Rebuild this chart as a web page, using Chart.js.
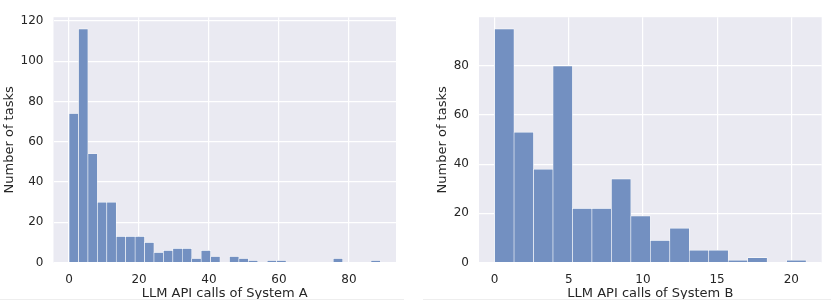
<!DOCTYPE html>
<html>
<head>
<meta charset="utf-8">
<script src="https://cdn.jsdelivr.net/npm/chart.js@4.4.0/dist/chart.umd.min.js"></script>
<style>
    body { margin: 0; background: #fff; width: 831px; height: 305px; overflow: hidden; position: relative; }
    .box { position: absolute; top: 0; height: 305px; }
    #boxA { left: 0; width: 410px; }
    #boxB { left: 433px; width: 398px; }
    .edge { position: absolute; top: 299px; height: 1px; background: #eeeeee; }
</style>
</head>
<body>
<div class="box" id="boxA"><canvas id="chartA" width="410" height="305"></canvas></div>
<div class="box" id="boxB"><canvas id="chartB" width="398" height="305"></canvas></div>
<div class="edge" style="left:0;width:404px"></div>
<div class="edge" style="left:423px;width:408px"></div>
<script>
// Histogram counts
const countsA = [74, 116, 54, 30, 30, 13, 13, 13, 10, 5, 6, 7, 7, 2, 6, 3, 0, 3, 2, 1, 0, 1, 1, 0, 0, 0, 0, 0, 2, 0, 0, 0, 1];
const rangeA = [0, 89];              // data min / max of System A
const xTicksA = [0, 20, 40, 60, 80];
const yTicksA = [0, 20, 40, 60, 80, 100, 120];

const countsB = [95, 53, 38, 80, 22, 22, 34, 19, 9, 14, 5, 5, 1, 2, 0, 1];
const rangeB = [0, 21];              // data min / max of System B
const xTicksB = [0, 5, 10, 15, 20];
const yTicksB = [0, 20, 40, 60, 80];

const xLabelA = 'LLM API calls of System A';
const xLabelB = 'LLM API calls of System B';
const yLabel = 'Number of tasks';

const FONT = "'DejaVu Sans', sans-serif";
const TEXT = '#262626';
const BAR = 'rgb(115, 144, 193)';
const BG = '#eaeaf2';

// paint the axes background (seaborn darkgrid)
const plotBg = {
    id: 'plotBg',
    beforeDraw(chart) {
        const { ctx, chartArea: a } = chart;
        ctx.save();
        ctx.fillStyle = BG;
        ctx.fillRect(a.left, a.top, a.right - a.left, a.bottom - a.top);
        ctx.restore();
    }
};

function makeHist(id, counts, range, xTicks, yTicks, xLabel, yAxisWidth, padRight) {
    const n = counts.length;
    const w = (range[1] - range[0]) / n;
    const points = counts.map((c, i) => ({ x: range[0] + (i + 0.5) * w, y: c }));
    const margin = (range[1] - range[0]) * 0.05;
    const yMax = Math.max(...counts) * 1.05;

    return new Chart(document.getElementById(id), {
        type: 'bar',
        data: {
            datasets: [{
                data: points,
                backgroundColor: BAR,
                borderColor: '#ffffff',
                borderWidth: { top: 0.7, left: 0.6, right: 0.6, bottom: 0 },
                borderSkipped: false,
                barPercentage: 1,
                categoryPercentage: 1
            }]
        },
        options: {
            responsive: false,
            animation: false,
            events: [],
            layout: { padding: { top: 7, right: padRight, bottom: 0, left: 0 } },
            plugins: { legend: { display: false }, tooltip: { enabled: false } },
            scales: {
                x: {
                    type: 'linear',
                    offset: false,
                    min: range[0] - margin,
                    max: range[1] + margin,
                    afterBuildTicks: s => { s.ticks = xTicks.map(v => ({ value: v })); },
                    afterFit: s => { s.height = 42.5; },
                    grid: { color: '#ffffff', lineWidth: 1.2, drawTicks: false, offset: false },
                    border: { display: false },
                    ticks: { color: TEXT, font: { family: FONT, size: 12 }, padding: 10, maxRotation: 0 },
                    title: { display: true, text: xLabel, color: TEXT, font: { family: FONT, size: 13 }, padding: { top: 0, bottom: 4 } }
                },
                y: {
                    min: 0,
                    max: yMax,
                    afterBuildTicks: s => { s.ticks = yTicks.map(v => ({ value: v })); },
                    afterFit: s => { s.width = yAxisWidth; },
                    grid: { color: '#ffffff', lineWidth: 1.2, drawTicks: false },
                    border: { display: false },
                    ticks: { color: TEXT, font: { family: FONT, size: 12 }, padding: 10 },
                    title: { display: true, text: yLabel, color: TEXT, font: { family: FONT, size: 13 }, padding: { top: 1.5, bottom: 0 } }
                }
            }
        },
        plugins: [plotBg]
    });
}

makeHist('chartA', countsA, rangeA, xTicksA, yTicksA, xLabelA, 53.5, 14);
makeHist('chartB', countsB, rangeB, xTicksB, yTicksB, xLabelB, 46, 9.3);
</script>
</body>
</html>
